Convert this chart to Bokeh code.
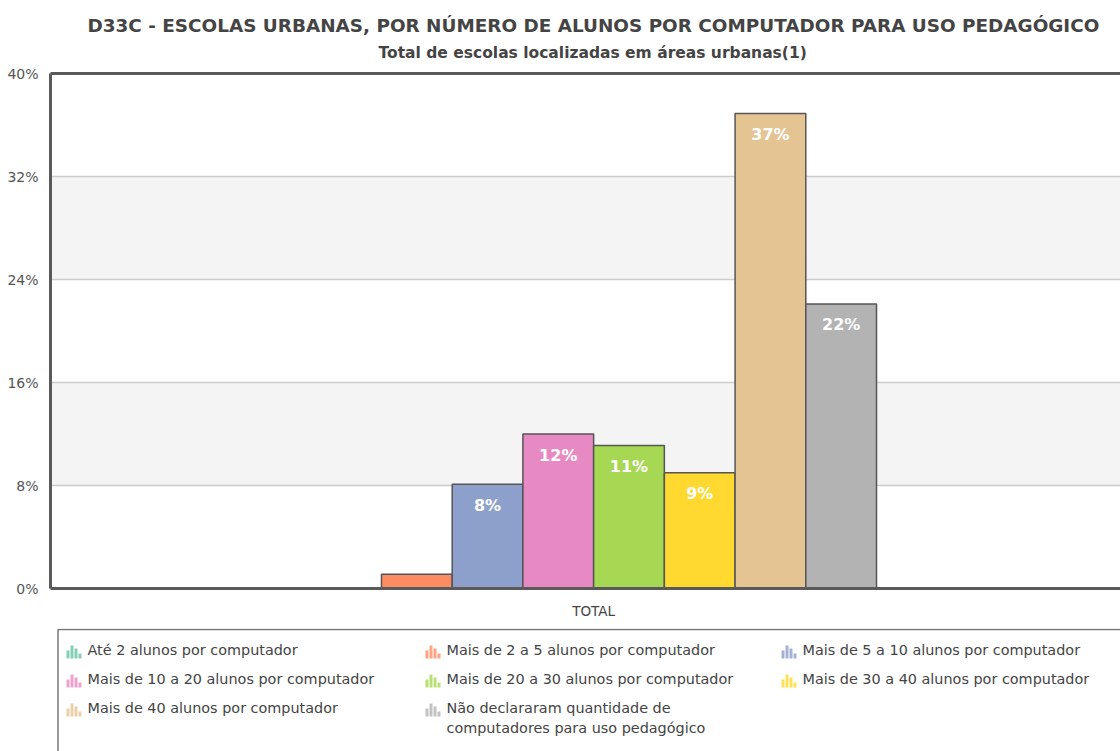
import textwrap
import numpy as np
from bokeh.plotting import figure
from bokeh.models import (FixedTicker, PrintfTickFormatter, LinearAxis, Title, Range1d,
                          ColumnDataSource)
from bokeh.layouts import column
from bokeh.embed import file_html
from bokeh.resources import INLINE
from bokeh.core.properties import value

# ---------------- data ----------------
title_text = "D33C - ESCOLAS URBANAS, POR NÚMERO DE ALUNOS POR COMPUTADOR PARA USO PEDAGÓGICO"
subtitle_text = "Total de escolas localizadas em áreas urbanas(1)"
group_label = "TOTAL"
categories = [
    "Até 2 alunos por computador",
    "Mais de 2 a 5 alunos por computador",
    "Mais de 5 a 10 alunos por computador",
    "Mais de 10 a 20 alunos por computador",
    "Mais de 20 a 30 alunos por computador",
    "Mais de 30 a 40 alunos por computador",
    "Mais de 40 alunos por computador",
    "Não declararam quantidade de computadores para uso pedagógico",
]
values = [0.0, 1.1, 8.1, 12.0, 11.1, 9.0, 36.9, 22.1]
colors = ["#66c2a5", "#fc8d62", "#8da0cb", "#e78ac3", "#a6d854", "#ffd92f", "#e5c494", "#b3b3b3"]
y_ticks = [0, 8, 16, 24, 32, 40]

FONT = "DejaVu Sans"
n = len(categories)
xpos = np.arange(n) - (n - 1) / 2.0
labels = [f"{round(v)}%" if v >= 5 else "" for v in values]

src = ColumnDataSource(dict(x=xpos, top=values, color=colors, label=labels, cat=categories))

W = 1120
p = figure(width=W, height=628, x_range=Range1d(-7.68, 7.45), y_range=Range1d(0, 40),
           output_backend="svg", toolbar_location=None, title=None,
           min_border_left=50, min_border_right=0, min_border_bottom=40, min_border_top=73)
p.outline_line_color = None
p.background_fill_color = "white"
p.border_fill_color = "white"

# grid and bands
p.xgrid.visible = False
p.ygrid.ticker = FixedTicker(ticks=y_ticks)
p.ygrid.grid_line_color = "#cccccc"
p.ygrid.grid_line_width = 1.5
p.ygrid.band_fill_color = "#f4f4f4"
p.ygrid.band_fill_alpha = 1.0

# axes
p.yaxis.ticker = FixedTicker(ticks=y_ticks)
p.yaxis.formatter = PrintfTickFormatter(format="%d%%")
p.yaxis.major_tick_line_color = None
p.yaxis.minor_tick_line_color = None
p.yaxis.axis_line_color = "#5a5a5a"
p.yaxis.axis_line_width = 3
p.yaxis.major_label_text_font = FONT
p.yaxis.major_label_text_font_size = "14px"
p.yaxis.major_label_text_color = "#555555"
p.yaxis.major_label_standoff = 6

p.xaxis.ticker = FixedTicker(ticks=[0])
p.xaxis.major_label_overrides = {0: group_label}
p.xaxis.major_tick_line_color = None
p.xaxis.minor_tick_line_color = None
p.xaxis.axis_line_color = "#5a5a5a"
p.xaxis.axis_line_width = 3
p.xaxis.major_label_text_font = FONT
p.xaxis.major_label_text_font_size = "13.5px"
p.xaxis.major_label_text_color = "#444444"
p.xaxis.major_label_standoff = 8

top_axis = LinearAxis(ticker=FixedTicker(ticks=[]), major_tick_line_color=None,
                      minor_tick_line_color=None, major_label_text_font_size="0px",
                      axis_line_color="#5a5a5a", axis_line_width=3, major_label_standoff=0)
p.add_layout(top_axis, "above")
p.add_layout(Title(text=subtitle_text, align="left", offset=328, text_font=FONT,
                   text_font_style="bold", text_font_size="15.5px", text_color="#444444",
                   standoff=24), "above")
p.add_layout(Title(text=title_text, align="left", offset=37, text_font=FONT,
                   text_font_style="bold", text_font_size="18.4px", text_color="#444444",
                   standoff=-12), "above")

p.vbar(x="x", top="top", width=1.0, bottom=0, source=src, fill_color="color",
       line_color="#555555", line_width=1.5)
p.text(x="x", y="top", text="label", source=src, text_color="white",
       text_font=value(FONT), text_font_style="bold", text_font_size="16px",
       text_align="center", text_baseline="middle", y_offset=21)

# ---------------- legend panel (x in plot-frame pixels) ----------------
LH = 751 - 628
leg = figure(width=W, height=LH, x_range=Range1d(0, W - 50), y_range=Range1d(LH, 0),
             output_backend="svg", toolbar_location=None,
             x_axis_location=None, y_axis_location=None,
             min_border_left=50, min_border_right=0, min_border_top=0, min_border_bottom=0)
leg.grid.visible = False
leg.outline_line_color = None
leg.border_fill_color = "white"
leg.quad(left=[7.5], right=[1300], top=[1], bottom=[300], fill_color=None,
         line_color="#777777", line_width=1.5)

col_x = [16, 375, 731]
row_y = [23, 52, 81]
icon_h = [8, 13, 10, 5]
ncols = 3
il, ir, ib, it, ic = [], [], [], [], []
tx, ty, tt = [], [], []
for k, (cat, col) in enumerate(zip(categories, colors)):
    r, c = divmod(k, ncols)
    x0, y0 = col_x[c], row_y[r]
    for j, h in enumerate(icon_h):
        il.append(x0 + j * 4)
        ir.append(x0 + j * 4 + 3)
        ib.append(y0 + 7)
        it.append(y0 + 7 - h)
        ic.append(col)
    tx.append(x0 + 21)
    ty.append(y0 - 9.5)
    tt.append(textwrap.fill(cat, 32) if len(cat) > 45 else cat)

leg.quad(left=il, right=ir, bottom=ib, top=it, fill_color=ic, fill_alpha=0.8, line_color=None)
leg.text(x=tx, y=ty, text=tt, text_font=value(FONT), text_font_size="14.4px",
         text_color="#444444", text_baseline="top", text_align="left", text_line_height=1.25)

layout = column(p, leg, spacing=0)
open("out.html", "w").write(file_html(layout, INLINE))
